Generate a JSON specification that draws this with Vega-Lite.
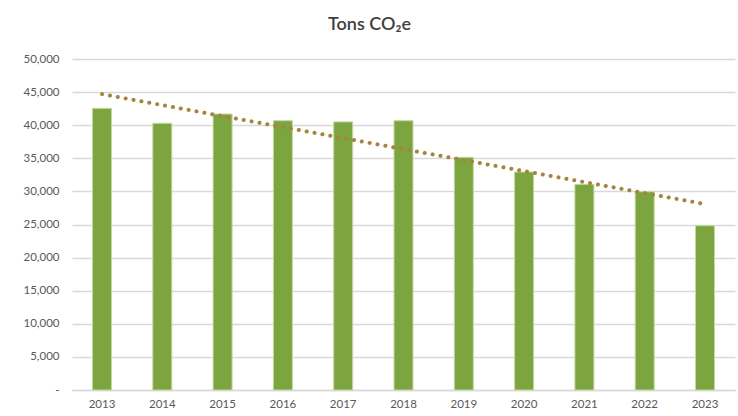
{
  "$schema": "https://vega.github.io/schema/vega-lite/v6.json",
  "width": 663,
  "height": 331,
  "autosize": "none",
  "padding": {"left": 72, "top": 59, "right": 3, "bottom": 26},
  "background": "white",
  "title": {
    "text": "Tons CO₂e",
    "anchor": "middle",
    "dx": -34,
    "offset": 19,
    "fontSize": 18,
    "fontWeight": 600,
    "font": "Lato",
    "color": "#404040"
  },
  "data": {
    "values": [
      {"year": 2013, "tons": 42550},
      {"year": 2014, "tons": 40290},
      {"year": 2015, "tons": 41690},
      {"year": 2016, "tons": 40680},
      {"year": 2017, "tons": 40500},
      {"year": 2018, "tons": 40680},
      {"year": 2019, "tons": 35150},
      {"year": 2020, "tons": 32930},
      {"year": 2021, "tons": 31070},
      {"year": 2022, "tons": 29950},
      {"year": 2023, "tons": 24820}
    ]
  },
  "config": {
    "view": {"stroke": null},
    "font": "Lato",
    "axis": {
      "labelFont": "Lato",
      "labelColor": "#595959",
      "labelFontSize": 11.5,
      "title": null
    }
  },
  "encoding": {
    "x": {
      "field": "year",
      "type": "ordinal",
      "scale": {"paddingInner": 0.685, "paddingOuter": 0.34},
      "axis": {
        "labelAngle": 0,
        "ticks": false,
        "domain": true,
        "domainColor": "#d9d9d9",
        "domainWidth": 1.5,
        "labelPadding": 8
      }
    },
    "y": {
      "field": "tons",
      "type": "quantitative",
      "scale": {"domain": [0, 50000], "nice": false},
      "axis": {
        "values": [0, 5000, 10000, 15000, 20000, 25000, 30000, 35000, 40000, 45000, 50000],
        "labelExpr": "datum.value === 0 ? '-' : format(datum.value, ',')",
        "labelOverlap": false,
        "ticks": false,
        "domain": false,
        "gridColor": "#d9d9d9",
        "gridWidth": 1.5,
        "labelPadding": 13
      }
    }
  },
  "layer": [
    {
      "mark": {"type": "bar", "color": "#7DA53F", "stroke": "#C3D9A2", "strokeWidth": 1}
    },
    {
      "transform": [{"regression": "tons", "on": "year"}],
      "mark": {
        "type": "line",
        "color": "#A6843F",
        "strokeWidth": 4,
        "strokeCap": "round",
        "strokeDash": [0.1, 7.9]
      }
    }
  ]
}
